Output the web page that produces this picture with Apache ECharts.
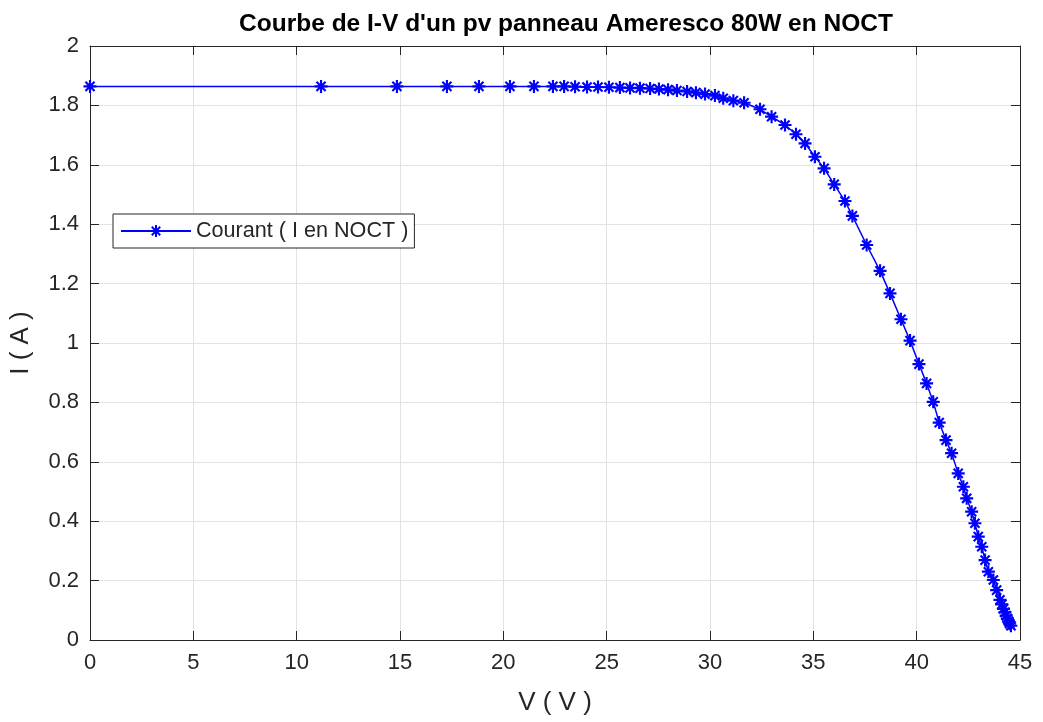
<!DOCTYPE html>
<html>
<head>
<meta charset="utf-8">
<title>Courbe I-V</title>
<script src="https://cdn.jsdelivr.net/npm/echarts@6/dist/echarts.min.js"></script>
<style>
  html, body { margin: 0; padding: 0; background: #fff; }
  #main { width: 1043px; height: 722px; }
</style>
</head>
<body>
<div id="main"></div>
<script>
// tension V ( V )
var tension = [0, 11.18, 14.85, 17.27, 18.82, 20.32, 21.48, 22.40, 22.94, 23.47,
    24.05, 24.58, 25.11, 25.64, 26.13, 26.61, 27.10, 27.53, 27.97, 28.40,
    28.89, 29.32, 29.76, 30.24, 30.64, 31.13, 31.65, 32.42, 32.98, 33.63,
    34.16, 34.60, 35.08, 35.52, 36.01, 36.53, 36.89, 37.58, 38.23, 38.71,
    39.24, 39.68, 40.11, 40.48, 40.80, 41.09, 41.42, 41.69, 42.01, 42.26,
    42.42, 42.66, 42.82, 42.98, 43.15, 43.31, 43.47, 43.71, 43.87, 44.03,
    44.12, 44.20, 44.27, 44.33, 44.39, 44.45, 44.50, 44.56];
// courant I ( A )
var courant = [1.864, 1.864, 1.864, 1.864, 1.864, 1.864, 1.864, 1.864, 1.864, 1.863,
    1.862, 1.862, 1.861, 1.860, 1.859, 1.858, 1.857, 1.855, 1.853, 1.850,
    1.847, 1.843, 1.838, 1.833, 1.824, 1.816, 1.809, 1.787, 1.762, 1.734,
    1.703, 1.672, 1.627, 1.588, 1.534, 1.478, 1.428, 1.330, 1.243, 1.167,
    1.080, 1.008, 0.929, 0.864, 0.802, 0.732, 0.673, 0.629, 0.561, 0.516,
    0.477, 0.432, 0.393, 0.348, 0.314, 0.269, 0.230, 0.202, 0.168, 0.135,
    0.120, 0.105, 0.093, 0.082, 0.072, 0.063, 0.055, 0.048];
var xTicks = [0, 5, 10, 15, 20, 25, 30, 35, 40, 45];
var yTicks = [0, 0.2, 0.4, 0.6, 0.8, 1, 1.2, 1.4, 1.6, 1.8, 2];

var police = "'Liberation Sans', Arial, Helvetica, sans-serif";
var gris = '#262626';
// marqueur '*' façon matlab (traits un peu épais)
var etoile = 'path://M0 5L12 5L12 7L0 7Z M5 0L7 0L7 12L5 12Z' +
    ' M2.5 1.1L10.9 9.5L9.5 10.9L1.1 2.5Z M9.5 1.1L10.9 2.5L2.5 10.9L1.1 9.5Z';

var points = [];
for (var i = 0; i < tension.length; i++) {
    points.push([tension[i], courant[i]]);
}

function axeX(pos, visible) {
    return {
        type: 'value',
        position: pos,
        min: xTicks[0],
        max: xTicks[xTicks.length - 1],
        interval: 5,
        name: visible ? 'V ( V )' : '',
        nameLocation: 'middle',
        nameGap: 50,
        nameTextStyle: { color: gris, fontSize: 26, fontFamily: police },
        axisLine: { show: true, onZero: false, lineStyle: { color: gris, width: 1 } },
        axisTick: { show: true, inside: true, length: 9, lineStyle: { color: gris } },
        axisLabel: { show: visible, color: gris, fontSize: 22, fontFamily: police, margin: 12 },
        splitLine: { show: visible, lineStyle: { color: '#e2e2e2', width: 1 } }
    };
}
function axeY(pos, visible) {
    return {
        type: 'value',
        position: pos,
        min: yTicks[0],
        max: yTicks[yTicks.length - 1],
        interval: 0.2,
        name: visible ? 'I ( A )' : '',
        nameLocation: 'middle',
        nameGap: 56,
        nameTextStyle: { color: gris, fontSize: 26, fontFamily: police },
        axisLine: { show: true, onZero: false, lineStyle: { color: gris, width: 1 } },
        axisTick: { show: true, inside: true, length: 9, lineStyle: { color: gris } },
        axisLabel: { show: visible, color: gris, fontSize: 22, fontFamily: police, margin: 11 },
        splitLine: { show: visible, lineStyle: { color: '#e2e2e2', width: 1 } }
    };
}

var myChart = echarts.init(document.getElementById('main'), null, { renderer: 'canvas' });
var option = {
    backgroundColor: '#fff',
    animation: false,
    title: {
        text: "Courbe de I-V d'un pv panneau Ameresco 80W en NOCT",
        left: 561,
        textAlign: 'center',
        top: 7,
        textStyle: { color: '#000', fontSize: 24.5, fontWeight: 'bold', fontFamily: police }
    },
    grid: { left: 90, top: 46, width: 930, height: 594 },
    legend: {
        left: 113,
        top: 214,
        orient: 'vertical',
        padding: [6, 6, 6, 7],
        itemWidth: 70,
        itemHeight: 15,
        borderColor: gris,
        borderWidth: 1,
        backgroundColor: '#fff',
        textStyle: { color: gris, fontSize: 21.6, fontFamily: police },
        data: ['Courant ( I en NOCT )']
    },
    xAxis: [axeX('bottom', true), axeX('top', false)],
    yAxis: [axeY('left', true), axeY('right', false)],
    series: [{
        name: 'Courant ( I en NOCT )',
        type: 'line',
        data: points,
        symbol: etoile,
        symbolSize: 13,
        showAllSymbol: true,
        color: '#0000ff',
        lineStyle: { color: '#0000ff', width: 1.5 },
        itemStyle: { color: '#0000ff', borderWidth: 0 }
    }]
};
myChart.setOption(option);
</script>
</body>
</html>
